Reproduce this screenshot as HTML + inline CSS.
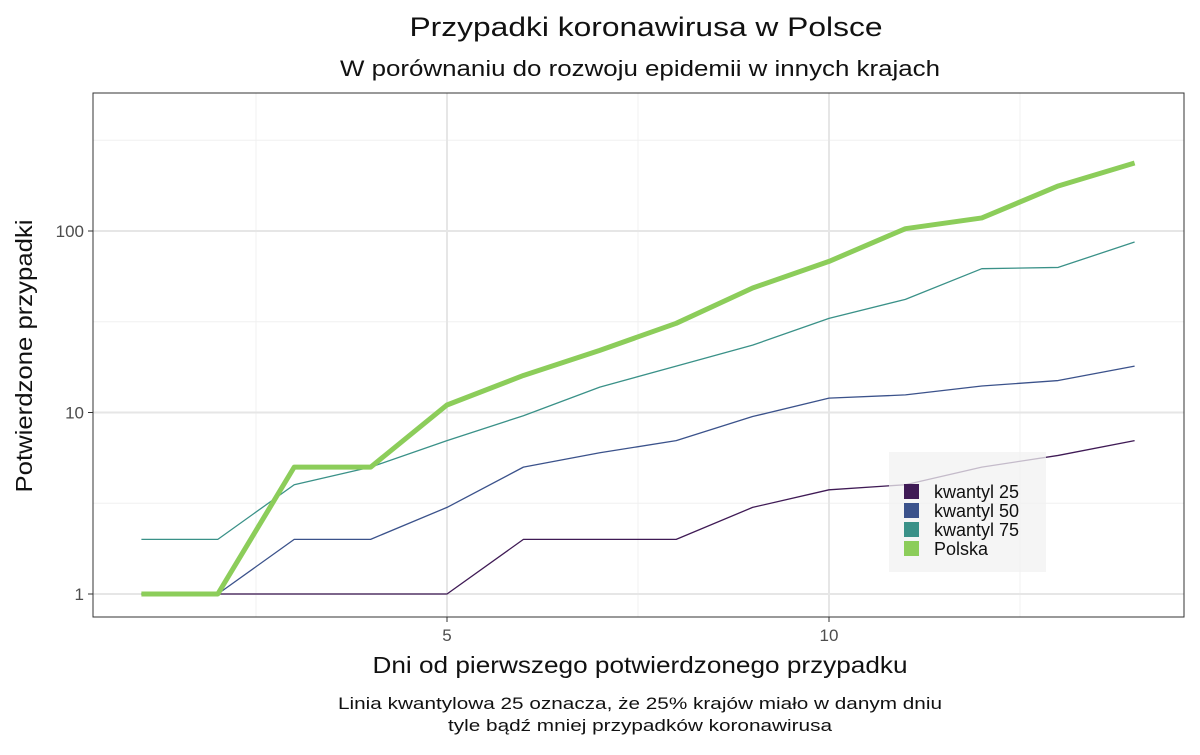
<!DOCTYPE html>
<html><head><meta charset="utf-8"><style>
body{margin:0;background:#fff;font-family:"Liberation Sans",sans-serif}
svg text{font-family:"Liberation Sans",sans-serif}
</style></head><body>
<svg width="1200" height="750" xmlns="http://www.w3.org/2000/svg">
<rect width="1200" height="750" fill="#fff"/>
<text x="646" y="36" font-size="27" text-anchor="middle" fill="#111" textLength="473" lengthAdjust="spacingAndGlyphs">Przypadki koronawirusa w Polsce</text>
<text x="640" y="76" font-size="22" text-anchor="middle" fill="#111" textLength="600" lengthAdjust="spacingAndGlyphs">W porównaniu do rozwoju epidemii w innych krajach</text>
<g id="grid"></g>
<g id="series"></g>
<rect x="93" y="93" width="1091" height="524" fill="none" stroke="#333" stroke-width="1"/>
<g id="axes"></g>
<g>
<rect x="889" y="452" width="157" height="120" fill="rgba(242,242,242,0.75)"/>
<g id="legend"></g>
</g>
<text x="640" y="673" font-size="23" text-anchor="middle" fill="#111" textLength="535" lengthAdjust="spacingAndGlyphs">Dni od pierwszego potwierdzonego przypadku</text>
<text transform="translate(32,356) rotate(-90)" font-size="23" text-anchor="middle" fill="#111" textLength="273" lengthAdjust="spacingAndGlyphs">Potwierdzone przypadki</text>
<text x="640" y="709" font-size="17" text-anchor="middle" fill="#111" textLength="604" lengthAdjust="spacingAndGlyphs">Linia kwantylowa 25 oznacza, że 25% krajów miało w danym dniu</text>
<text x="640" y="731" font-size="17" text-anchor="middle" fill="#111" textLength="384" lengthAdjust="spacingAndGlyphs">tyle bądź mniej przypadków koronawirusa</text>
</svg>
<script>
const days=[1,2,3,4,5,6,7,8,9,10,11,12,13,14];
const q25=[1,1,1,1,1,2,2,2,3,3.75,4,5,5.8,7];
const q50=[1,1,2,2,3,5,6,7,9.5,12,12.5,14,15,18];
const q75=[2,2,4,5,7,9.6,13.8,18,23.5,33,42,62,63,87];
const polska=[1,1,5,5,11,16,22,31,48.5,68,103,118,177,237];
const xTicks=[5,10];
const xMinor=[2.5,7.5,12.5];
const yTicks=[1,10,100];
const yMinor=[Math.sqrt(10),Math.sqrt(1000),Math.sqrt(100000)];
const seriesNames=["kwantyl 25","kwantyl 50","kwantyl 75","Polska"];
const NS="http://www.w3.org/2000/svg";
const X=v=>141.4+(v-1)*76.4;
const Y=v=>594-Math.log10(v)*181.5;
function mk(tag,attrs,parent){const e=document.createElementNS(NS,tag);for(const k in attrs)e.setAttribute(k,attrs[k]);parent.appendChild(e);return e;}
const grid=document.getElementById('grid'),axes=document.getElementById('axes');
xMinor.forEach(v=>{const l=mk('line',{x1:X(v),x2:X(v),y1:93,y2:617,stroke:'#f0f0f0','stroke-width':1},grid);

});
yMinor.forEach(v=>{const l=mk('line',{x1:93,x2:1184,y1:Y(v),y2:Y(v),stroke:'#f0f0f0','stroke-width':1},grid);

});
xTicks.forEach(v=>{const l=mk('line',{x1:X(v),x2:X(v),y1:93,y2:617,stroke:'#e6e6e6','stroke-width':2},grid);


const t=mk('line',{x1:X(v),x2:X(v),y1:617,y2:622,stroke:'#333'},axes);


const tx=mk('text',{x:X(v),y:641,'font-size':17,'text-anchor':'middle',fill:'#4d4d4d'},axes);tx.textContent=v;

});
yTicks.forEach(v=>{const l=mk('line',{x1:93,x2:1184,y1:Y(v),y2:Y(v),stroke:'#e6e6e6','stroke-width':2},grid);


const t=mk('line',{x1:88,x2:93,y1:Y(v),y2:Y(v),stroke:'#333'},axes);


const tx=mk('text',{x:84,y:Y(v)+6,'font-size':17,'text-anchor':'end',fill:'#4d4d4d'},axes);tx.textContent=v;

});
const ser=document.getElementById('series');
const data=[q75,q50,q25,polska],cols=['#3a9188','#3b528b','#3f1a55','#8ccd5a'],widths=[1.3,1.3,1.3,5],names=['line-kwantyl-75','line-kwantyl-50','line-kwantyl-25','line-polska'];
data.forEach((d,i)=>{const p=mk('polyline',{points:d.map((v,j)=>X(days[j])+','+Y(v)).join(' '),fill:'none',stroke:cols[i],'stroke-width':widths[i],'stroke-linejoin':'round'},ser);

});
const lg=document.getElementById('legend'),lc=['#3f1a55','#3b528b','#3a9188','#8ccd5a'];
seriesNames.forEach((n,i)=>{const y=484+i*19;
const r=mk('rect',{x:904,y:y,width:15,height:15,fill:lc[i]},lg);


const t=mk('text',{x:934,y:y+14,'font-size':18,fill:'#111'},lg);t.textContent=n;

});
</script>
</body></html>
